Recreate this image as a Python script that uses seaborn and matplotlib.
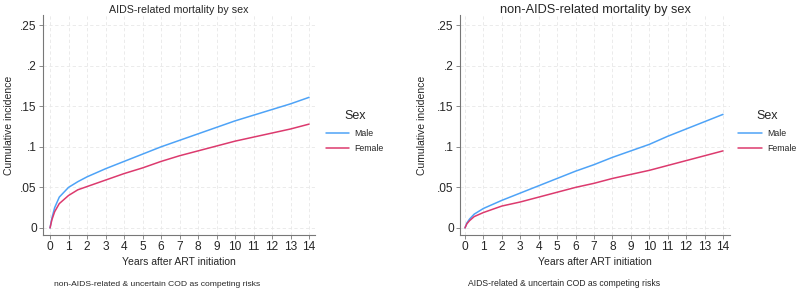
import numpy as np
import pandas as pd
import matplotlib
matplotlib.use("Agg")
import matplotlib.pyplot as plt
import seaborn as sns

# years after ART initiation
years = [0, 0.1, 0.25, 0.5, 1, 1.5, 2, 3, 4, 5, 6, 7, 8, 9, 10, 11, 12, 13, 14]

# AIDS-related cumulative incidence
aids_male = [0, 0.012, 0.025, 0.038, 0.050, 0.057, 0.063, 0.073, 0.082, 0.091,
             0.100, 0.108, 0.116, 0.124, 0.132, 0.139, 0.146, 0.153, 0.161]
aids_female = [0, 0.010, 0.020, 0.030, 0.040, 0.047, 0.051, 0.059, 0.067, 0.074,
               0.082, 0.089, 0.095, 0.101, 0.107, 0.112, 0.117, 0.122, 0.128]

# non-AIDS-related cumulative incidence
non_male = [0, 0.006, 0.011, 0.017, 0.024, 0.029, 0.034, 0.043, 0.052, 0.061,
            0.070, 0.078, 0.087, 0.095, 0.103, 0.113, 0.122, 0.131, 0.140]
non_female = [0, 0.005, 0.009, 0.014, 0.019, 0.023, 0.027, 0.032, 0.038, 0.044,
              0.050, 0.055, 0.061, 0.066, 0.071, 0.077, 0.083, 0.089, 0.095]

sexes = ["Male", "Female"]
titles = ["AIDS-related mortality by sex", "non-AIDS-related mortality by sex"]
notes = ["non-AIDS-related & uncertain COD as competing risks",
         "AIDS-related & uncertain COD as competing risks"]
x_ticks = list(range(15))
y_ticks = [0, 0.05, 0.1, 0.15, 0.2, 0.25]
y_tick_labels = ["0", ".05", ".1", ".15", ".2", ".25"]

palette = {"Male": "#4ea3f7", "Female": "#dc3a6e"}

sns.set_style("ticks")
plt.rcParams["font.family"] = ["Liberation Sans", "DejaVu Sans"]


def make_df(male, female):
    rows = []
    for sex, vals in zip(sexes, [male, female]):
        for t, v in zip(years, vals):
            rows.append({"years": t, "inc": v, "Sex": sex})
    return pd.DataFrame(rows)


fig = plt.figure(figsize=(8, 2.91), dpi=100)
W, H = 800, 291
# axes boxes in pixels: left, right, top, bottom
boxes = [(43, 315, 15, 235), (460, 730, 15, 235)]
xlims = [(-0.38, 14.32), (-0.27, 14.38)]
ylabel_x = [9, 422]
note_x = [54, 468]
title_sizes = [7.7, 9.2]
note_sizes = [6.1, 6.2]
leg_x = [1.01, 1.0]

for i, (male, female) in enumerate([(aids_male, aids_female), (non_male, non_female)]):
    l, r, t, b = boxes[i]
    ax = fig.add_axes([l / W, 1 - b / H, (r - l) / W, (b - t) / H])
    df = make_df(male, female)
    sns.lineplot(data=df, x="years", y="inc", hue="Sex", hue_order=sexes,
                 palette=palette, linewidth=1.1, ax=ax)
    ax.set_xlim(*xlims[i])
    ax.set_ylim(-0.0087, 0.2625)
    ax.set_xticks(x_ticks)
    ax.set_yticks(y_ticks)
    ax.set_yticklabels(y_tick_labels)
    ax.tick_params(labelsize=8.6, length=3, width=0.6, color="#777777", pad=1.5)
    for s in ["top", "right"]:
        ax.spines[s].set_visible(False)
    for s in ["left", "bottom"]:
        ax.spines[s].set_color("#777777")
        ax.spines[s].set_linewidth(0.8)
    ax.grid(True, color="#e8e8e8", linestyle=(0, (4, 3)), linewidth=0.6)
    ax.set_axisbelow(True)
    ax.set_ylabel("")
    ax.set_xlabel("Years after ART initiation", fontsize=7.5, labelpad=3)
    fig.text((l + r) / 2 / W, 1 - 10 / H, titles[i], fontsize=title_sizes[i],
             ha="center", va="center")
    fig.text(ylabel_x[i] / W, 1 - 125 / H, "Cumulative incidence", rotation=90,
             fontsize=7.5, ha="center", va="center")
    fig.text(note_x[i] / W, 1 - 284 / H, notes[i], fontsize=note_sizes[i],
             ha="left", va="center")
    leg = ax.legend(title="Sex", loc="center left", bbox_to_anchor=(leg_x[i], 0.47),
                    frameon=False, fontsize=6.3, title_fontsize=9,
                    handlelength=2.7, handletextpad=0.6, labelspacing=0.75)
    for line in leg.get_lines():
        line.set_linewidth(1.1)

fig.savefig("out.png", dpi=100)
